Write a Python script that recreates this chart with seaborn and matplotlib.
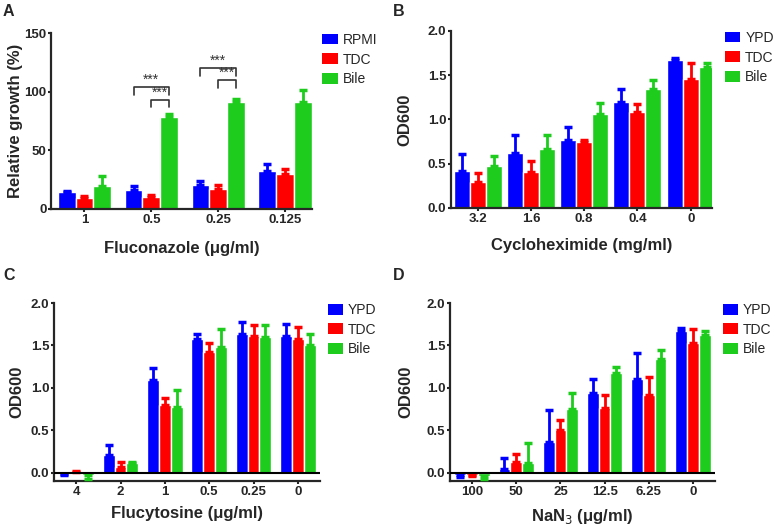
import numpy as np
import pandas as pd
import matplotlib
matplotlib.use('Agg')
import matplotlib.pyplot as plt
from matplotlib.patches import Patch
from matplotlib.ticker import FormatStrFormatter
import seaborn as sns

sns.set_style('ticks')
plt.rcParams['font.family'] = ['Liberation Sans', 'DejaVu Sans']

COLORS = ['#0000FF', '#FF0000', '#1ECC1E']

# Panel A: fluconazole, relative growth (%)
a_conc = ['1', '0.5', '0.25', '0.125']
a_media = ['RPMI', 'TDC', 'Bile']
a_rpmi = [14.2, 15.9, 20.7, 32.7]
a_tdc = [9.4, 10.5, 17.0, 29.8]
a_bile = [19.9, 78.4, 91.5, 91.5]
a_rpmi_err = [1.2, 3.4, 2.9, 5.9]
a_tdc_err = [2.0, 1.4, 3.5, 4.3]
a_bile_err = [7.9, 2.8, 2.3, 9.5]

# Panel B: cycloheximide, OD600
b_conc = ['3.2', '1.6', '0.8', '0.4', '0']
b_media = ['YPD', 'TDC', 'Bile']
b_ypd = [0.42, 0.62, 0.77, 1.20, 1.67]
b_tdc = [0.29, 0.41, 0.74, 1.09, 1.46]
b_bile = [0.47, 0.67, 1.06, 1.34, 1.59]
b_ypd_err = [0.19, 0.21, 0.15, 0.15, 0.03]
b_tdc_err = [0.11, 0.12, 0.03, 0.08, 0.18]
b_bile_err = [0.12, 0.15, 0.13, 0.11, 0.05]

# Panel C: flucytosine, OD600
c_conc = ['4', '2', '1', '0.5', '0.25', '0']
c_ypd = [-0.02, 0.21, 1.09, 1.58, 1.64, 1.61]
c_tdc = [0.005, 0.07, 0.80, 1.42, 1.61, 1.58]
c_bile = [-0.03, 0.11, 0.77, 1.48, 1.60, 1.51]
c_ypd_err = [0.01, 0.11, 0.14, 0.06, 0.14, 0.14]
c_tdc_err = [0.015, 0.06, 0.08, 0.11, 0.13, 0.14]
c_bile_err = [0.05, 0.02, 0.20, 0.21, 0.14, 0.13]

# Panel D: sodium azide, OD600
d_conc = ['100', '50', '25', '12.5', '6.25', '0']
d_ypd = [-0.03, 0.04, 0.36, 0.94, 1.10, 1.67]
d_tdc = [-0.03, 0.12, 0.50, 0.76, 0.92, 1.53]
d_bile = [-0.04, 0.11, 0.75, 1.17, 1.34, 1.62]
d_ypd_err = [0.02, 0.13, 0.38, 0.16, 0.31, 0.03]
d_tdc_err = [0.01, 0.10, 0.12, 0.16, 0.21, 0.16]
d_bile_err = [0.04, 0.24, 0.19, 0.07, 0.11, 0.05]

# significance brackets in A: (group, left medium, right medium, bracket height)
a_sig = [(1, 0, 2, 104), (1, 1, 2, 93), (2, 0, 2, 120), (2, 1, 2, 110)]


def make_df(conc, media, series):
    rows = []
    for m, vals in zip(media, series):
        for c, v in zip(conc, vals):
            rows.append({'conc': c, 'medium': m, 'value': v})
    return pd.DataFrame(rows)


def bar_panel(ax, conc, media, series, errs, width, ylim, yticks, xlabel, ylabel,
              xright, xpad, ypad, leg_x):
    df = make_df(conc, media, series)
    sns.barplot(data=df, x='conc', y='value', hue='medium', order=conc,
                hue_order=media, palette=COLORS, width=width, errorbar=None,
                saturation=1, edgecolor='white', linewidth=1.0, legend=False, ax=ax)
    n = len(conc)
    for i, (vals, err) in enumerate(zip(series, errs)):
        patches = ax.patches[i * n:(i + 1) * n]
        xs = [p.get_x() + p.get_width() / 2 for p in patches]
        for x, v, e in zip(xs, vals, err):
            lower = [e] if v < 0 else [0]
            upper = [0] if v < 0 else [e]
            ax.errorbar(x, v, yerr=[lower, upper], fmt='none', ecolor=COLORS[i],
                        elinewidth=2, capsize=3, capthick=2.5, zorder=3)
    ax.set_ylim(*ylim)
    ax.set_yticks(yticks)
    ax.set_xlim(-0.5, n - 1 + xright)
    if ylim[0] < 0:
        ax.axhline(0, color='black', lw=1.5, zorder=4)
    sns.despine(ax=ax)
    for s in ['left', 'bottom']:
        ax.spines[s].set_linewidth(1.6)
    ax.tick_params(axis='both', width=1.5, length=2.5, pad=0.8, labelsize=9.5)
    for t in ax.get_xticklabels() + ax.get_yticklabels():
        t.set_fontweight('bold')
    ax.set_xlabel(xlabel, fontsize=12, fontweight='bold', labelpad=xpad)
    ax.set_ylabel(ylabel, fontsize=12, fontweight='bold', labelpad=ypad)
    handles = [Patch(facecolor=c, edgecolor='none') for c in COLORS]
    ax.legend(handles, media, loc='upper left', bbox_to_anchor=(leg_x, 1.0),
              frameon=False, fontsize=10, handlelength=1.1, handleheight=0.8,
              handletextpad=0.35, labelspacing=0.4, borderaxespad=0, borderpad=0)
    return ax


fig = plt.figure(figsize=(7.74, 5.28), dpi=100)
axA = fig.add_axes([0.0659, 0.6042, 0.3372, 0.3333])
axB = fig.add_axes([0.5827, 0.6061, 0.3372, 0.3352])
axC = fig.add_axes([0.0698, 0.0890, 0.3437, 0.3371])
axD = fig.add_axes([0.5814, 0.0890, 0.3424, 0.3371])

bar_panel(axA, a_conc, a_media, [a_rpmi, a_tdc, a_bile],
          [a_rpmi_err, a_tdc_err, a_bile_err], 0.8, (0, 150), [0, 50, 100, 150],
          'Fluconazole (\u03bcg/ml)', 'Relative growth (%)', 0.4, 11, 1, 1.04)
bar_panel(axB, b_conc, b_media, [b_ypd, b_tdc, b_bile],
          [b_ypd_err, b_tdc_err, b_bile_err], 0.9, (0, 2.0), [0, 0.5, 1.0, 1.5, 2.0],
          'Cycloheximide (mg/ml)', 'OD600', 0.4, 10, 11, 1.05)
bar_panel(axC, c_conc, b_media, [c_ypd, c_tdc, c_bile],
          [c_ypd_err, c_tdc_err, c_bile_err], 0.8, (-0.1, 2.0), [0, 0.5, 1.0, 1.5, 2.0],
          'Flucytosine (\u03bcg/ml)', 'OD600', 0.5, 6, 5, 1.03)
bar_panel(axD, d_conc, b_media, [d_ypd, d_tdc, d_bile],
          [d_ypd_err, d_tdc_err, d_bile_err], 0.8, (-0.1, 2.0), [0, 0.5, 1.0, 1.5, 2.0],
          'NaN$_3$ (\u03bcg/ml)', 'OD600', 0.5, 7, 10, 1.03)
for ax in [axB, axC, axD]:
    ax.yaxis.set_major_formatter(FormatStrFormatter('%.1f'))
    for t in ax.get_yticklabels():
        t.set_fontweight('bold')

# significance brackets
n = len(a_conc)
for g, m1, m2, h in a_sig:
    p1 = axA.patches[m1 * n + g]
    p2 = axA.patches[m2 * n + g]
    x1 = p1.get_x() + p1.get_width() / 2
    x2 = p2.get_x() + p2.get_width() / 2
    axA.plot([x1, x1, x2, x2], [h - 6.5, h, h, h - 6.5], color='#333333', lw=1.2, clip_on=False)
    axA.text((x1 + x2) / 2, h + 0.3, '***', ha='center', va='bottom', fontsize=10, color='#333333')

# panel letters
for letter, x, y in [('A', 3, 4), ('B', 393, 4), ('C', 3, 268), ('D', 393, 268)]:
    fig.text(x / 774, 1 - y / 528, letter, fontsize=11.5, fontweight='bold',
             ha='left', va='top')

fig.savefig('out.png', dpi=100)
